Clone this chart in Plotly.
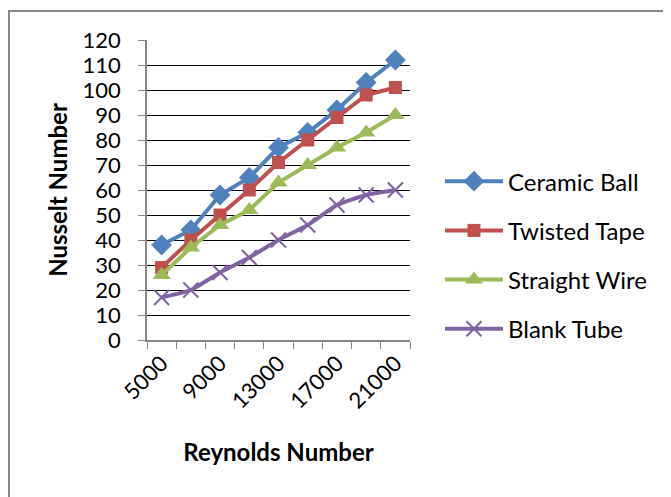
import plotly.graph_objects as go

reynolds = [5000, 7000, 9000, 11000, 13000, 15000, 17000, 19000, 21000]
ceramic_ball = [38, 44, 58, 65, 77, 83, 92, 103, 112]
twisted_tape = [29, 40, 50, 60, 71, 80, 89, 98, 101]
straight_wire = [26, 37, 46, 52, 63, 70, 77, 83, 90]
blank_tube = [17, 20, 27, 33, 40, 46, 54, 58, 60]

series = [
    ("Ceramic Ball", ceramic_ball, "#4F81BD", dict(symbol="diamond", size=16), "linear"),
    ("Twisted Tape", twisted_tape, "#C0504D", dict(symbol="square", size=13), "linear"),
    ("Straight Wire", straight_wire, "#9BBB59", dict(symbol="triangle-up", size=16), "linear"),
    ("Blank Tube", blank_tube, "#8064A2", dict(symbol="x-thin", size=15, line=dict(width=2, color="#8064A2")), "spline"),
]

FONT = "Lato, Open Sans, sans-serif"

L, T, PW, PH = 139, 32, 263, 300

fig = go.Figure()
for i, (name, vals, col, mk, shape) in enumerate(series):
    fig.add_trace(go.Scatter(
        x=reynolds, y=vals, name=name, mode="lines+markers",
        line=dict(color=col, width=4, shape=shape, smoothing=0.5),
        marker=dict(color=col, **mk),
        legendgroup=f"g{i}",
    ))

fig.update_layout(
    width=671, height=497,
    margin=dict(l=L, r=671 - L - PW, t=T, b=497 - T - PH),
    paper_bgcolor="white", plot_bgcolor="white",
    font=dict(family=FONT, size=22, color="black"),
    showlegend=True,
    legend=dict(x=1.114, y=0.283, xanchor="left", yanchor="middle",
                font=dict(size=24), tracegroupgap=15, itemwidth=58,
                bgcolor="rgba(0,0,0,0)"),
    xaxis=dict(
        range=[4000, 22000], tick0=5000, dtick=4000, tickangle=-45, tickformat="d",
        showgrid=False, zeroline=False, ticks="",
        showline=True, linecolor="#868686", linewidth=1.5,
        minor=dict(ticks="outside", tick0=4000, dtick=2000, ticklen=7,
                   tickcolor="#868686", showgrid=False),
        tickfont=dict(size=22),
        title=dict(text="<b>Reynolds Number</b>", font=dict(size=24), standoff=32),
    ),
    yaxis=dict(
        range=[0, 120], dtick=10, showgrid=True, gridcolor="black", gridwidth=1,
        zeroline=False, showline=True, linecolor="#868686", linewidth=1.5,
        ticks="outside", ticklen=7, tickcolor="#868686", ticklabelstandoff=13,
        tickfont=dict(size=22),
        title=dict(text="<b>Nusselt Number</b>", font=dict(size=24), standoff=8),
    ),
)

fig.add_shape(type="rect", xref="paper", yref="paper",
              x0=(1 - L) / PW, x1=(700 - L) / PW,
              y0=(T + PH - 520) / PH, y1=(T + PH - 3) / PH,
              line=dict(color="#868686", width=2), fillcolor="rgba(0,0,0,0)", layer="below")

fig.write_html("out.html")
